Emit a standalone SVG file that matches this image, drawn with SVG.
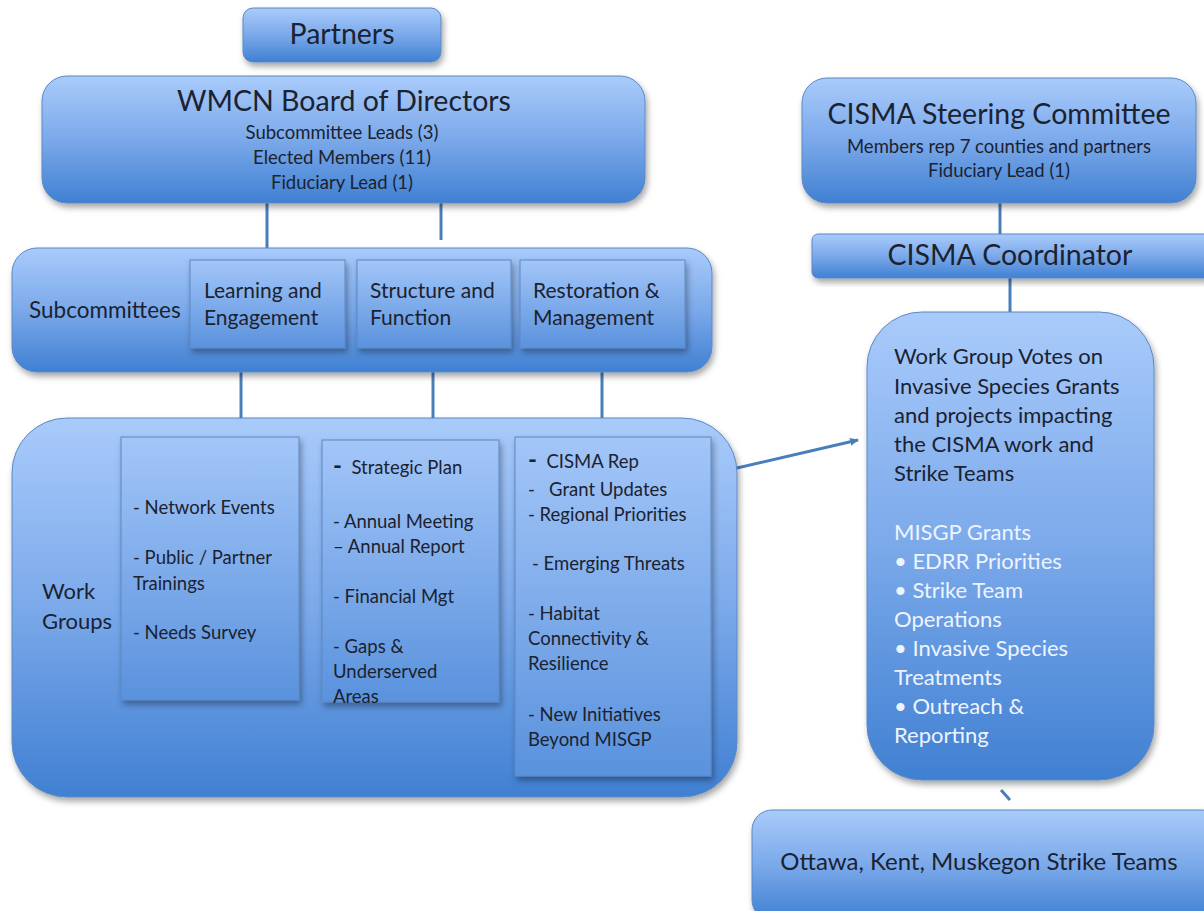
<svg xmlns="http://www.w3.org/2000/svg" width="1204" height="911" viewBox="0 0 1204 911">
<defs>
<linearGradient id="g" x1="0" y1="0" x2="0" y2="1">
<stop offset="0" stop-color="#a9cbfb"/>
<stop offset="0.5" stop-color="#7ba9ea"/>
<stop offset="1" stop-color="#4080d2"/>
</linearGradient>
<linearGradient id="gi" x1="0" y1="0" x2="0" y2="1">
<stop offset="0" stop-color="#a3c6f8"/>
<stop offset="1" stop-color="#5a92dd"/>
</linearGradient>
<filter id="sh" x="-10%" y="-10%" width="120%" height="130%">
<feDropShadow dx="2" dy="4" stdDeviation="3" flood-color="#000" flood-opacity="0.35"/>
</filter>
<marker id="arr" markerWidth="10" markerHeight="10" refX="8" refY="5" orient="auto" markerUnits="userSpaceOnUse">
<path d="M0,1 L9,5 L0,9 Z" fill="#4a7ebb"/>
</marker>
</defs>
<style>
.box{fill:url(#g);stroke:#5b88c4;stroke-width:1;filter:url(#sh)}
.inner{fill:url(#gi);stroke:#5b88c4;stroke-width:1;filter:url(#sh)}
text{font-family:Lato,"Open Sans","Liberation Sans",sans-serif;fill:#1b2230}
.t1{font-size:28.5px}
.t2{font-size:18.5px}
.t3{font-size:21px}
.t4{font-size:18.5px}
.t5{font-size:22px}
.lbl{font-size:22.5px}
.big{font-size:24px}
.dash{font-size:24px;font-weight:bold}
.w{fill:#eef4ff}
.c{text-anchor:middle}
.pre{white-space:pre}
.ln{stroke:#4a7ebb;stroke-width:3;fill:none}
</style>

<g id="connectors">
<line class="ln" x1="267" y1="203" x2="267" y2="248"/>
<line class="ln" x1="441" y1="200" x2="441" y2="240"/>
<line class="ln" x1="241" y1="372" x2="241" y2="437"/>
<line class="ln" x1="433" y1="372" x2="433" y2="440"/>
<line class="ln" x1="602" y1="372" x2="602" y2="437"/>
<line class="ln" x1="1000" y1="203" x2="1000" y2="234"/>
<line class="ln" x1="1010" y1="278" x2="1010" y2="312"/>
<line class="ln" x1="737" y1="468" x2="858" y2="440" marker-end="url(#arr)"/>
<line class="ln" x1="1001" y1="790" x2="1010" y2="800"/>
</g>

<g id="partners">
<rect class="box" x="243" y="8" width="198" height="54" rx="10"/>
<text class="t1 c" x="342" y="44">Partners</text>
</g>

<g id="board">
<rect class="box" x="42" y="76" width="603" height="127" rx="25"/>
<text class="t1 c" x="344" y="111">WMCN Board of Directors</text>
<text class="t2 c" x="342" y="139">Subcommittee Leads (3)</text>
<text class="t2 c" x="342" y="164">Elected Members (11)</text>
<text class="t2 c" x="342" y="189">Fiduciary Lead (1)</text>
</g>

<g id="subcommittees">
<rect class="box" x="12" y="248" width="700" height="124" rx="25"/>
<text class="lbl" x="29" y="318">Subcommittees</text>
</g>

<g id="learning">
<rect class="inner" x="190" y="260" width="155" height="88"/>
<text class="t3" x="204" y="298">Learning and</text>
<text class="t3" x="204" y="325">Engagement</text>
</g>

<g id="structure">
<rect class="inner" x="357" y="260" width="154" height="88"/>
<text class="t3" x="370" y="298">Structure and</text>
<text class="t3" x="370" y="325">Function</text>
</g>

<g id="restoration">
<rect class="inner" x="520" y="260" width="165" height="88"/>
<text class="t3" x="533" y="298">Restoration &amp;</text>
<text class="t3" x="533" y="325">Management</text>
</g>

<g id="workgroups">
<rect class="box" x="12" y="418" width="725" height="379" rx="55"/>
<text class="t5" x="42" y="599">Work</text>
<text class="t5" x="42" y="629">Groups</text>
</g>

<g id="wg1">
<rect class="inner" x="121" y="437" width="178" height="263"/>
<text class="t4" x="133" y="514">- Network Events</text>
<text class="t4" x="133" y="564">- Public / Partner</text>
<text class="t4" x="133" y="590">Trainings</text>
<text class="t4" x="133" y="639">- Needs Survey</text>
</g>

<g id="wg2">
<rect class="inner" x="322" y="440" width="177" height="262"/>
<text class="t4 pre" x="333" y="474"><tspan class="dash">-</tspan>  Strategic Plan</text>
<text class="t4" x="333" y="528">- Annual Meeting</text>
<text class="t4" x="333" y="553">– Annual Report</text>
<text class="t4" x="333" y="603">- Financial Mgt</text>
<text class="t4" x="333" y="653">- Gaps &amp;</text>
<text class="t4" x="333" y="678">Underserved</text>
<text class="t4" x="333" y="703">Areas</text>
</g>

<g id="wg3">
<rect class="inner" x="515" y="437" width="196" height="339"/>
<text class="t4 pre" x="528" y="468"><tspan class="dash">-</tspan>  CISMA Rep</text>
<text class="t4 pre" x="528" y="496">-   Grant Updates</text>
<text class="t4" x="528" y="521">- Regional Priorities</text>
<text class="t4" x="532" y="570">- Emerging Threats</text>
<text class="t4" x="528" y="620">- Habitat</text>
<text class="t4" x="528" y="645">Connectivity &amp;</text>
<text class="t4" x="528" y="670">Resilience</text>
<text class="t4" x="528" y="721">- New Initiatives</text>
<text class="t4" x="528" y="746">Beyond MISGP</text>
</g>

<g id="steering">
<rect class="box" x="802" y="78" width="394" height="125" rx="25"/>
<text class="t1 c" x="999" y="124">CISMA Steering Committee</text>
<text class="t2 c" x="999" y="153">Members rep 7 counties and partners</text>
<text class="t2 c" x="999" y="177">Fiduciary Lead (1)</text>
</g>

<g id="coordinator">
<rect class="box" x="812" y="234" width="400" height="44" rx="6"/>
<text class="t1 c" x="1010" y="265">CISMA Coordinator</text>
</g>

<g id="votes">
<rect class="box" x="867" y="312" width="287" height="468" rx="55"/>
<text class="t5" x="894" y="364">Work Group Votes on</text>
<text class="t5" x="894" y="394">Invasive Species Grants</text>
<text class="t5" x="894" y="423">and projects impacting</text>
<text class="t5" x="894" y="452">the CISMA work and</text>
<text class="t5" x="894" y="481">Strike Teams</text>
<text class="t5 w" x="894" y="540">MISGP Grants</text>
<text class="t5 w" x="894" y="569">• EDRR Priorities</text>
<text class="t5 w" x="894" y="598">• Strike Team</text>
<text class="t5 w" x="894" y="627">Operations</text>
<text class="t5 w" x="894" y="656">• Invasive Species</text>
<text class="t5 w" x="894" y="685">Treatments</text>
<text class="t5 w" x="894" y="714">• Outreach &amp;</text>
<text class="t5 w" x="894" y="743">Reporting</text>
</g>

<g id="strike">
<rect class="box" x="752" y="810" width="470" height="110" rx="20"/>
<text class="big c" x="979" y="870">Ottawa, Kent, Muskegon Strike Teams</text>
</g>
</svg>
